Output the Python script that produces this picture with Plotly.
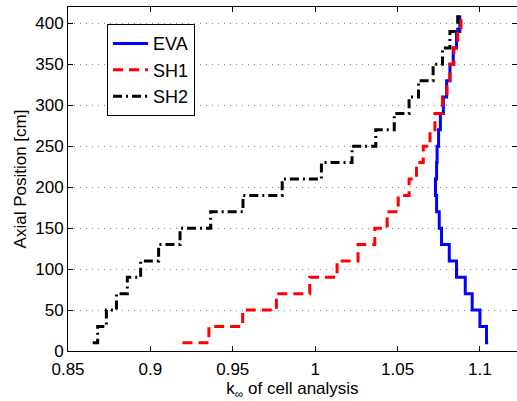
import plotly.graph_objects as go

# Axial node positions [cm]
axial = [10, 30, 50, 70, 90, 110, 130, 150, 170, 190, 210,
         230, 250, 270, 290, 310, 330, 350, 370, 390, 410]

eva = [1.105, 1.104, 1.100, 1.0953, 1.0911, 1.0858, 1.0814, 1.0767, 1.0753, 1.0737,
       1.073, 1.0737, 1.074, 1.0749, 1.076, 1.0778, 1.0798, 1.0818, 1.0838, 1.0858, 1.0878]

sh1 = [0.9195, 0.9355, 0.956, 0.9765, 0.9967, 1.0133, 1.026, 1.0362, 1.0437, 1.0504,
       1.057, 1.0615, 1.0656, 1.0697, 1.0727, 1.0773, 1.080, 1.0818, 1.0842, 1.0865, 1.0885]

sh2 = [0.865, 0.868, 0.8733, 0.8794, 0.886, 0.8941, 0.905, 0.918, 0.9366, 0.9562,
       0.980, 1.0038, 1.0224, 1.0368, 1.048, 1.057, 1.0627, 1.0716, 1.0773, 1.0818, 1.0865]

x_ticks = [0.85, 0.9, 0.95, 1, 1.05, 1.1]
y_ticks = [0, 50, 100, 150, 200, 250, 300, 350, 400]

FONT = "Liberation Sans, Arial, Helvetica, sans-serif"

fig = go.Figure()
fig.add_trace(go.Scatter(x=eva, y=axial, mode="lines", name="EVA",
                         line=dict(color="#0000ff", width=3, shape="hv")))
fig.add_trace(go.Scatter(x=sh1, y=axial, mode="lines", name="SH1",
                         line=dict(color="#ff0000", width=3, shape="hv", dash="10px,6px")))
fig.add_trace(go.Scatter(x=sh2, y=axial, mode="lines", name="SH2",
                         line=dict(color="#000000", width=3, shape="hv", dash="9px,4px,2px,4px")))

axis_common = dict(showline=True, linecolor="black", linewidth=1, mirror="ticks",
                   ticks="inside", ticklen=5, tickcolor="black", zeroline=False,
                   automargin=False,
                   tickfont=dict(family=FONT, size=17, color="black"))

fig.update_layout(
    width=517, height=401,
    margin=dict(l=68, r=0, t=7, b=50, pad=0),
    paper_bgcolor="white", plot_bgcolor="white",
    font=dict(family=FONT, size=17, color="black"),
    showlegend=True,
    legend=dict(x=0.087, y=0.95, xanchor="left", yanchor="top",
                bgcolor="white", bordercolor="black", borderwidth=1,
                font=dict(family=FONT, size=18, color="black"),
                itemwidth=35, tracegroupgap=0),
    xaxis=dict(range=[0.85, 1.1225], tickvals=x_ticks, showgrid=False,
               ticklabelstandoff=3,
               title=dict(text="k<sub>∞</sub> of cell analysis", standoff=0,
                          font=dict(family=FONT, size=17)),
               **axis_common),
    yaxis=dict(range=[0, 420], tickvals=y_ticks, showgrid=True,
               gridcolor="#888888", griddash="1px,5px", gridwidth=1,
               title=dict(text="Axial Position [cm]", standoff=4,
                          font=dict(family=FONT, size=17)),
               **axis_common),
)

fig.write_html("out.html",
               config={"displayModeBar": False},
               post_script="document.body.style.margin='0';document.body.style.overflow='hidden';")
